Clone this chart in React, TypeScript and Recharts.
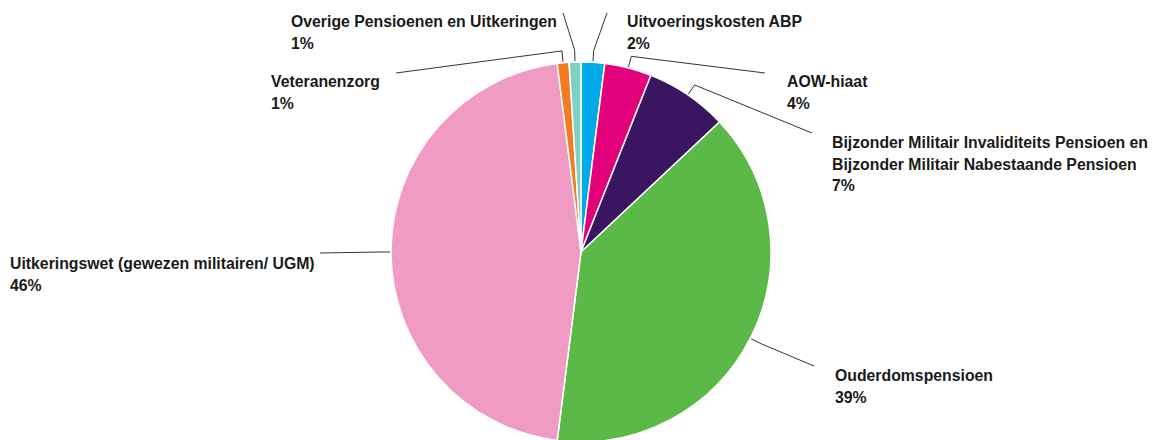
import { Cell, Pie, PieChart } from "recharts";

// clockwise from 12 o'clock
const categories = [
    "Uitvoeringskosten ABP",
    "AOW-hiaat",
    "Bijzonder Militair Invaliditeits Pensioen en\nBijzonder Militair Nabestaande Pensioen",
    "Ouderdomspensioen",
    "Uitkeringswet (gewezen militairen/ UGM)",
    "Veteranenzorg",
    "Overige Pensioenen en Uitkeringen",
];
const shares = [2, 4, 7, 39, 46, 1, 1];
const shareLabels = ["2%", "4%", "7%", "39%", "46%", "1%", "1%"];

const colors = ["#00aae9", "#e3007b", "#3a1560", "#5bb947", "#f09bc3", "#f47c20", "#7fcfc4"];

// leader line end + text anchor, relative to the pie centre
const labelLayout = [
    { endDx: 26, endDy: -239, textDx: 46, textDy: -225 },
    { endDx: 184, endDy: -179, textDx: 206, textDy: -165 },
    { endDx: 231, endDy: -119, textDx: 251, textDy: -104 },
    { endDx: 233, endDy: 114, textDx: 254, textDy: 129 },
    { endDx: -261, endDy: 1, textDx: -571, textDy: 17 },
    { endDx: -185, endDy: -179, textDx: -310, textDy: -165 },
    { endDx: -18, endDy: -239, textDx: -290, textDy: -225 },
];

const data = categories.map((name, i) => ({ name, value: shares[i] }));

const RAD = Math.PI / 180;
const LINE_H = 21.5;

function renderLabel(props: any) {
    const { cx, cy, midAngle, outerRadius, index } = props;
    const lay = labelLayout[index];
    const cos = Math.cos(-midAngle * RAD);
    const sin = Math.sin(-midAngle * RAD);
    const sx = cx + (outerRadius + 1) * cos;
    const sy = cy + (outerRadius + 1) * sin;
    const mx = cx + (outerRadius + 12) * cos;
    const my = cy + (outerRadius + 12) * sin;
    const ex = cx + lay.endDx;
    const ey = cy + lay.endDy;
    const lines = [...categories[index].split("\n"), shareLabels[index]];
    const tx = cx + lay.textDx;
    return (
        <g key={`lbl-${index}`}>
            <polyline
                points={`${sx},${sy} ${mx},${my} ${ex},${ey}`}
                fill="none"
                stroke="#333"
                strokeWidth={1}
            />
            <text
                x={tx}
                y={cy + lay.textDy}
                fill="#1a1a1a"
                fontSize={15.8}
                fontWeight="bold"
                fontFamily="'Liberation Sans', Arial, sans-serif"
            >
                {lines.map((l, i) => (
                    <tspan key={i} x={tx} dy={i === 0 ? 0 : LINE_H}>
                        {l}
                    </tspan>
                ))}
            </text>
        </g>
    );
}

export default function App() {
    return (
        <div style={{ position: "absolute", left: 0, top: 0, background: "#fff" }}>
            <PieChart width={1155} height={440} margin={{ top: 0, right: 0, bottom: 0, left: 0 }}>
                <Pie
                    data={data}
                    dataKey="value"
                    nameKey="name"
                    cx={581}
                    cy={252}
                    outerRadius={190}
                    startAngle={90}
                    endAngle={-270}
                    stroke="#fff"
                    strokeWidth={1.5}
                    label={renderLabel}
                    labelLine={false}
                    isAnimationActive={false}
                >
                    {data.map((d, i) => (
                        <Cell key={d.name} fill={colors[i]} />
                    ))}
                </Pie>
            </PieChart>
        </div>
    );
}
